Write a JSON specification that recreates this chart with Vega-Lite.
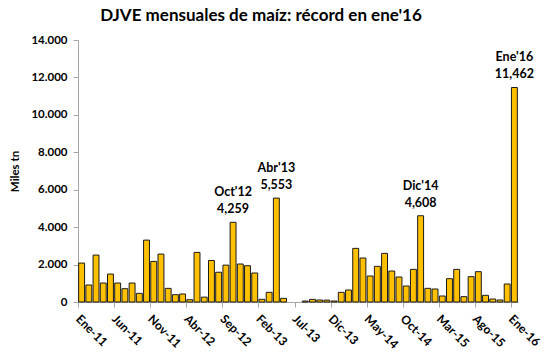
{
  "$schema": "https://vega.github.io/schema/vega-lite/v6.json",
  "width": 440,
  "height": 262,
  "autosize": {"type": "none"},
  "padding": {"left": 78, "top": 40, "right": 32, "bottom": 56},
  "background": "white",
  "title": {
    "text": "DJVE mensuales de maíz: récord en ene'16",
    "font": "Lato",
    "fontSize": 17,
    "fontWeight": "bold",
    "color": "#000000",
    "anchor": "middle",
    "dx": -37,
    "offset": 9
  },
  "config": {
    "view": {"stroke": null},
    "locale": {"number": {"decimal": ",", "thousands": ".", "grouping": [3], "currency": ["$", ""]}},
    "axis": {"labelFont": "Lato", "titleFont": "Lato", "labelColor": "#000000", "titleColor": "#000000", "domainColor": "#a6a6a6", "tickColor": "#a6a6a6"}
  },
  "data": {
    "values": [
      {"mes": "Ene-11", "v": 2080}, {"mes": "Feb-11", "v": 907}, {"mes": "Mar-11", "v": 2507}, {"mes": "Abr-11", "v": 1013},
      {"mes": "May-11", "v": 1493}, {"mes": "Jun-11", "v": 1013}, {"mes": "Jul-11", "v": 711}, {"mes": "Ago-11", "v": 1013},
      {"mes": "Sep-11", "v": 462}, {"mes": "Oct-11", "v": 3307}, {"mes": "Nov-11", "v": 2169}, {"mes": "Dic-11", "v": 2560},
      {"mes": "Ene-12", "v": 729}, {"mes": "Feb-12", "v": 391}, {"mes": "Mar-12", "v": 427}, {"mes": "Abr-12", "v": 124},
      {"mes": "May-12", "v": 2649}, {"mes": "Jun-12", "v": 260}, {"mes": "Jul-12", "v": 2220}, {"mes": "Ago-12", "v": 1590},
      {"mes": "Sep-12", "v": 1970}, {"mes": "Oct-12", "v": 4259, "label": "Oct'12\n4,259"}, {"mes": "Nov-12", "v": 2029}, {"mes": "Dic-12", "v": 1940},
      {"mes": "Ene-13", "v": 1549}, {"mes": "Feb-13", "v": 142}, {"mes": "Mar-13", "v": 516}, {"mes": "Abr-13", "v": 5553, "label": "Abr'13\n5,553"},
      {"mes": "May-13", "v": 196}, {"mes": "Jun-13", "v": 0}, {"mes": "Jul-13", "v": 0}, {"mes": "Ago-13", "v": 50},
      {"mes": "Sep-13", "v": 140}, {"mes": "Oct-13", "v": 107}, {"mes": "Nov-13", "v": 100}, {"mes": "Dic-13", "v": 53},
      {"mes": "Ene-14", "v": 516}, {"mes": "Feb-14", "v": 641}, {"mes": "Mar-14", "v": 2866}, {"mes": "Abr-14", "v": 2350},
      {"mes": "May-14", "v": 1388}, {"mes": "Jun-14", "v": 1905}, {"mes": "Jul-14", "v": 2599}, {"mes": "Ago-14", "v": 1655},
      {"mes": "Sep-14", "v": 1335}, {"mes": "Oct-14", "v": 854}, {"mes": "Nov-14", "v": 1744}, {"mes": "Dic-14", "v": 4608, "label": "Dic'14\n4,608"},
      {"mes": "Ene-15", "v": 730}, {"mes": "Feb-15", "v": 694}, {"mes": "Mar-15", "v": 320}, {"mes": "Abr-15", "v": 1246},
      {"mes": "May-15", "v": 1744}, {"mes": "Jun-15", "v": 285}, {"mes": "Jul-15", "v": 1353}, {"mes": "Ago-15", "v": 1620},
      {"mes": "Sep-15", "v": 356}, {"mes": "Oct-15", "v": 160}, {"mes": "Nov-15", "v": 107}, {"mes": "Dic-15", "v": 961},
      {"mes": "Ene-16", "v": 11462, "label": "Ene'16\n11,462"}
    ]
  },
  "encoding": {
    "x": {
      "field": "mes",
      "type": "ordinal",
      "sort": null,
      "scale": {"paddingInner": 0.18, "paddingOuter": 0.09},
      "axis": {
        "title": null,
        "values": ["Ene-11", "Jun-11", "Nov-11", "Abr-12", "Sep-12", "Feb-13", "Jul-13", "Dic-13", "May-14", "Oct-14", "Mar-15", "Ago-15", "Ene-16"],
        "bandPosition": 0,
        "labelAngle": 45,
        "labelAlign": "left",
        "labelBaseline": "top",
        "labelFontSize": 12,
        "labelFontWeight": "bold",
        "labelPadding": 6,
        "tickSize": 5,
        "labelOverlap": false
      }
    },
    "y": {
      "field": "v",
      "type": "quantitative",
      "scale": {"domain": [0, 14000]},
      "axis": {
        "title": "Miles tn",
        "titleFontSize": 11.5,
        "titleFontWeight": "bold",
        "titlePadding": 10,
        "format": ",.0f",
        "values": [0, 2000, 4000, 6000, 8000, 10000, 12000, 14000],
        "labelFontSize": 11.5,
        "labelFontWeight": "bold",
        "labelPadding": 6,
        "tickSize": 5,
        "grid": false
      }
    }
  },
  "layer": [
    {
      "mark": {"type": "bar", "fill": "#FFC000", "stroke": "#1a1a1a", "strokeWidth": 1},
      "encoding": {
        "strokeOpacity": {"condition": {"test": "datum.v == 0", "value": 0}, "value": 1}
      }
    },
    {
      "transform": [{"filter": "datum.label != null"}],
      "mark": {"type": "text", "font": "Lato", "fontSize": 12.5, "fontWeight": "bold", "color": "#000000", "baseline": "bottom", "dy": -23, "lineBreak": "\n", "lineHeight": 17},
      "encoding": {"text": {"field": "label"}}
    }
  ]
}
